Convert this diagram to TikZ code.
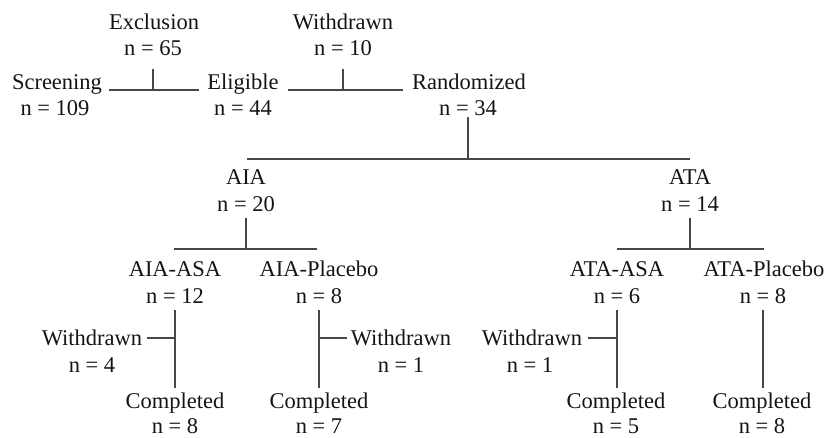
\documentclass[tikz,border=0pt]{standalone}
\usepackage{fontspec}
\setmainfont{Liberation Serif}
\usetikzlibrary{calc}
\begin{document}
\begin{tikzpicture}[x=1pt,y=-1pt,
  t/.style={anchor=base, inner sep=0pt, font=\fontsize{22.5}{26}\selectfont, text=black!92},
  ln/.style={draw=black!72, line width=1.1pt}]
\useasboundingbox (0,0) rectangle (827,437);
% top rows
\node[t] (excl) at (154,29) {Exclusion};
\node[t] (excln) at (153,55) {n = 65};
\node[t] (wd0) at (343,29) {Withdrawn};
\node[t] (wd0n) at (343,55) {n = 10};
\node[t] (scr) at (57,89) {Screening};
\node[t] (scrn) at (55,115) {n = 109};
\node[t] (elig) at (243,89) {Eligible};
\node[t] (elign) at (243,115) {n = 44};
\node[t] (rand) at (469,89) {Randomized};
\node[t] (randn) at (468,115) {n = 34};
% arms
\node[t] (aia) at (246,184) {AIA};
\node[t] (aian) at (246,211) {n = 20};
\node[t] (ata) at (690,184) {ATA};
\node[t] (atan) at (690,211) {n = 14};
% groups
\node[t] (aiaasa) at (175,276) {AIA-ASA};
\node[t] (aiaasan) at (175,303) {n = 12};
\node[t] (aiapl) at (319,276) {AIA-Placebo};
\node[t] (aiapln) at (319,303) {n = 8};
\node[t] (ataasa) at (617,276) {ATA-ASA};
\node[t] (ataasan) at (617,303) {n = 6};
\node[t] (atapl) at (764,276) {ATA-Placebo};
\node[t] (atapln) at (763,303) {n = 8};
% withdrawn
\node[t] (w1) at (92,345) {Withdrawn};
\node[t] (w1n) at (92,372) {n = 4};
\node[t] (w2) at (401,345) {Withdrawn};
\node[t] (w2n) at (401,372) {n = 1};
\node[t] (w3) at (532,345) {Withdrawn};
\node[t] (w3n) at (530,372) {n = 1};
% completed
\node[t] (c1) at (175,408) {Completed};
\node[t] (c1n) at (175,433) {n = 8};
\node[t] (c2) at (319,408) {Completed};
\node[t] (c2n) at (319,433) {n = 7};
\node[t] (c3) at (616,408) {Completed};
\node[t] (c3n) at (616,433) {n = 5};
\node[t] (c4) at (762,408) {Completed};
\node[t] (c4n) at (762,433) {n = 8};
% level coordinates
\coordinate (yR) at (0,159);
\coordinate (yA) at (0,249);
% connectors top
\draw[ln] ($(scr.base east)+(7,1)$) -- ($(elig.base west)+(-8,1)$);
\draw[ln] ($(excln.base)+(0,14)$) -- ($(excln.base)+(0,35)$);
\draw[ln] ($(elig.base east)+(9,1)$) -- ($(rand.base west)+(-9,1)$);
\draw[ln] ($(wd0n.base)+(0,14)$) -- ($(wd0n.base)+(0,35)$);
% randomization
\draw[ln] ($(randn.base)+(0,2)$) -- (randn.base |- yR);
\draw[ln] ($(aia.base |- yR)+(1,0)$) -- (ata.base |- yR);
% arm splits
\draw[ln] ($(aian.base)+(0,7)$) -- (aian.base |- yA);
\draw[ln] ($(aiaasa.base |- yA)+(-1,0)$) -- ($(aiapl.base |- yA)+(-2,0)$);
\draw[ln] ($(atan.base)+(0,7)$) -- (atan.base |- yA);
\draw[ln] (ataasa.base |- yA) -- (atapl.base |- yA);
% group lines
\draw[ln] ($(aiaasan.base)+(0,7)$) -- ($(aiaasan.base)+(0,85)$);
\draw[ln] ($(w1.base east)+(5,-7)$) -- ($(aiaasan.base)+(0,35)$);
\draw[ln] ($(aiapln.base)+(0,7)$) -- ($(aiapln.base)+(0,85)$);
\draw[ln] ($(aiapln.base)+(0,35)$) -- ($(w2.base west)+(-4,-7)$);
\draw[ln] ($(ataasan.base)+(0,7)$) -- ($(ataasan.base)+(0,85)$);
\draw[ln] ($(w3.base east)+(6,-7)$) -- ($(ataasan.base)+(0,35)$);
\draw[ln] ($(atapln.base)+(0,7)$) -- ($(atapln.base)+(0,85)$);
\end{tikzpicture}
\end{document}
